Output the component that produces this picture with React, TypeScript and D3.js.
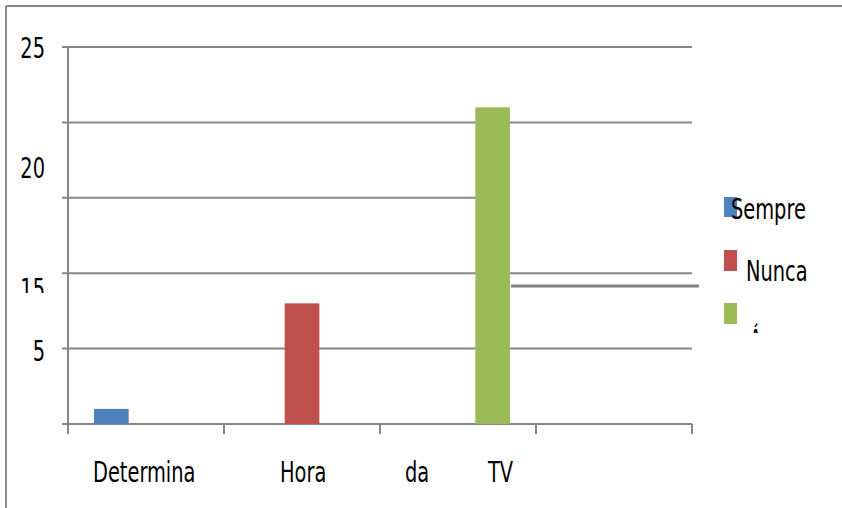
import React from "react";
import * as d3 from "d3";

// category words as printed under the axis
const categories = ["Determina", "Hora", "da", "TV"];
const seriesNames = ["Sempre", "Nunca", "Ás vezes"];
const sempre = [1, 0, 0, 0];
const nunca = [0, 8, 0, 0];
const asVezes = [0, 0, 21, 0];
const yTickLabels = ["25", "20", "15", "5"];

const colors = ["#4F81BD", "#C0504D", "#9BBB59"];
const FONT = "'Liberation Sans Narrow', 'DejaVu Sans Condensed', 'Liberation Sans', sans-serif";
const GRID = "#878787";
const SX = 0.77; // the text in the picture is squeezed sideways

// layout of the (misplaced) labels
const yLabelBaseline = [58, 178, 299, 361];
const xLabelStart = [93, 280, 405, 488];

function Label({ x, y, anchor, children, clip }: any) {
  return (
    <g clipPath={clip}>
      <text
        transform={`translate(${x},${y}) scale(${SX},1)`}
        textAnchor={anchor || "start"}
        fontFamily={FONT}
        fontSize={28}
        fill="#000"
      >
        {children}
      </text>
    </g>
  );
}

export default function App() {
  const W = 842;
  const H = 508;
  const left = 68;
  const right = 692;
  const top = 47;
  const bottom = 424;

  const y = d3.scaleLinear().domain([0, 25]).range([bottom, top]);
  const x = d3
    .scaleBand<number>()
    .domain(d3.range(categories.length))
    .range([left, right])
    .padding(0);
  const xs = d3
    .scaleBand<number>()
    .domain(d3.range(seriesNames.length))
    .range([0, x.bandwidth()])
    .paddingInner(0)
    .paddingOuter(0.75);

  const values = [sempre, nunca, asVezes];
  const gridVals = d3.range(0, 26, 5);
  const greenRight = (x(2) ?? 0) + (xs(2) ?? 0) + xs.bandwidth();

  return (
    <div style={{ position: "fixed", left: 0, top: 0 }}>
      <svg width={W} height={H} style={{ display: "block", background: "#fff" }}>
        <defs>
          <clipPath id="clip15">
            <rect x={0} y={0} width={60} height={293} />
          </clipPath>
          <clipPath id="clipLeg">
            <rect x={700} y={0} width={142} height={333} />
          </clipPath>
        </defs>

        {/* outer frame */}
        <line x1={6} x2={W} y1={6} y2={6} stroke={GRID} strokeWidth={2} />
        <line x1={6} x2={6} y1={6} y2={H} stroke={GRID} strokeWidth={2} />

        {/* gridlines */}
        {gridVals.map((v) => (
          <line
            key={v}
            x1={left - 6}
            x2={v === 15 ? greenRight : right}
            y1={y(v)}
            y2={y(v)}
            stroke={GRID}
            strokeWidth={2}
          />
        ))}
        {/* stray shifted piece of the 15 gridline */}
        <line x1={greenRight + 1} x2={699} y1={286} y2={286} stroke="#808080" strokeWidth={3} />

        {/* y axis */}
        <line x1={left} x2={left} y1={top} y2={bottom + 10} stroke={GRID} strokeWidth={2} />
        {/* x ticks */}
        {d3.range(categories.length + 1).map((i) => {
          const px = i < categories.length ? x(i)! : right;
          return <line key={i} x1={px} x2={px} y1={bottom} y2={bottom + 10} stroke={GRID} strokeWidth={2} />;
        })}

        {/* bars */}
        {values.map((vals, s) =>
          vals.map((v, c) =>
            v > 0 ? (
              <rect
                key={`${s}-${c}`}
                x={x(c)! + xs(s)!}
                y={y(v)}
                width={xs.bandwidth()}
                height={bottom - y(v)}
                fill={colors[s]}
              />
            ) : null
          )
        )}

        {/* y labels */}
        {yTickLabels.map((t, i) => (
          <Label key={t} x={45} y={yLabelBaseline[i]} anchor="end" clip={t === "15" ? "url(#clip15)" : undefined}>
            {t}
          </Label>
        ))}

        {/* x labels */}
        {categories.map((c, i) => (
          <Label key={c} x={xLabelStart[i]} y={482}>
            {c}
          </Label>
        ))}

        {/* legend */}
        <g>
          <rect x={724} y={197} width={13} height={20} fill={colors[0]} />
          <Label x={731} y={219}>{seriesNames[0]}</Label>
          <rect x={724} y={250} width={13} height={21} fill={colors[1]} />
          <Label x={746} y={281}>{seriesNames[1]}</Label>
          <rect x={724} y={303} width={13} height={21} fill={colors[2]} />
          <Label x={749} y={350} clip="url(#clipLeg)">{seriesNames[2]}</Label>
        </g>
      </svg>
    </div>
  );
}
